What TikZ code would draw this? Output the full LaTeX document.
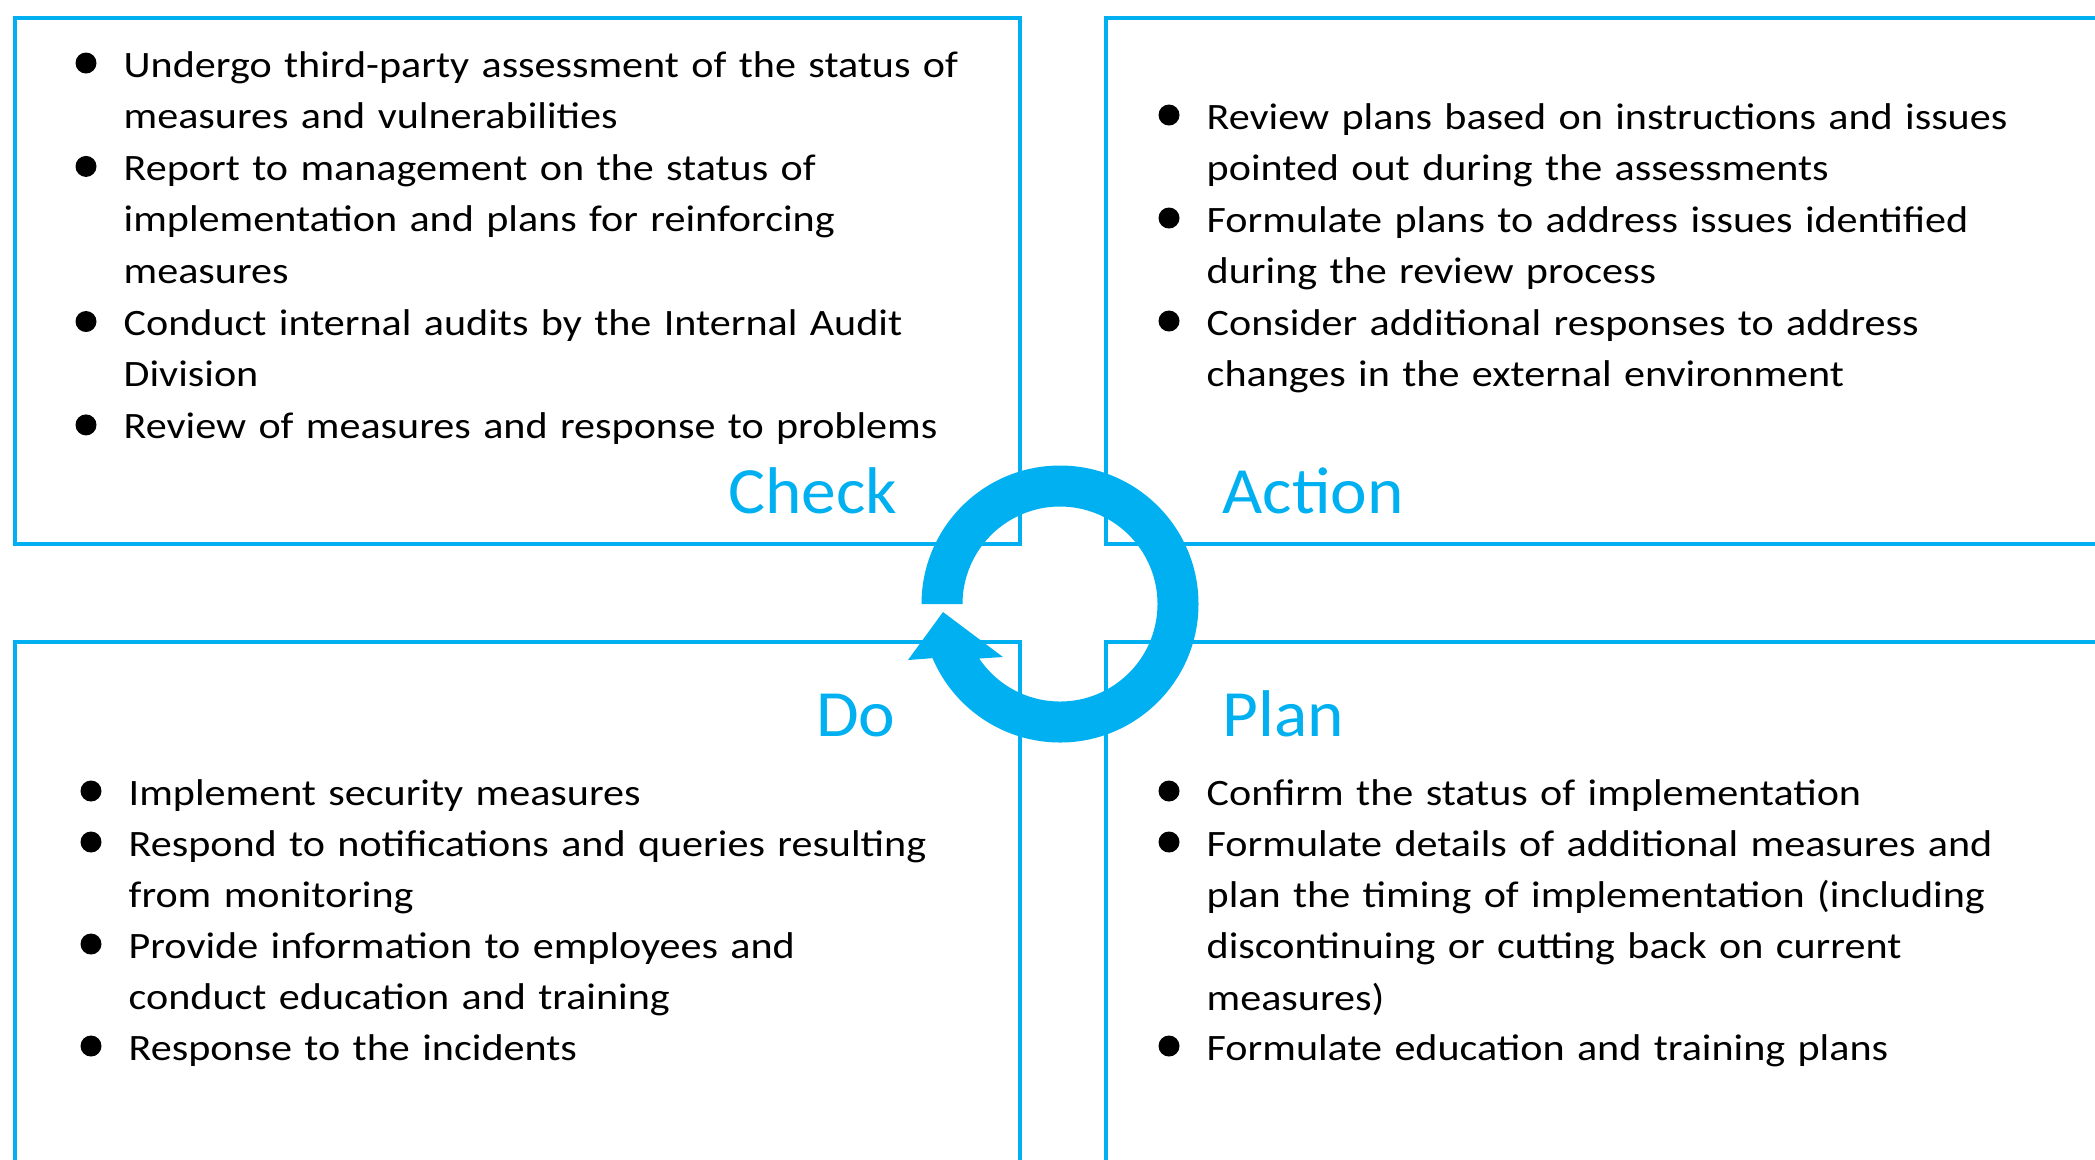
\documentclass[tikz,border=0pt]{standalone}
\usepackage{fontspec}
\setmainfont{Carlito}
\newfontfamily\bodyfont[FakeStretch=1.13]{Carlito}
\newfontfamily\headfont[FakeStretch=1.05]{Carlito}
\usetikzlibrary{positioning,calc}
\definecolor{pdcablue}{RGB}{0,176,240}

\begin{document}
\begin{tikzpicture}[
  quad/.style={draw=pdcablue,line width=1.2pt,anchor=north west,inner sep=0pt},
  phase/.style={text=pdcablue,inner sep=0pt,font=\headfont\fontsize{18.8}{22}\selectfont},
  pt/.style={anchor=base west,text width=9.6cm,align=left,inner sep=0pt,
    font=\bodyfont\fontsize{10.6}{14.62}\selectfont,
    append after command={\pgfextra{\fill ($(\tikzlastnode.base west)+(-0.37,0.14)$) circle (0.105);}}}
]
\useasboundingbox (0,0) rectangle (20.95,-11.59);
\clip (0,0) rectangle (20.95,-11.59);
% quadrants
\node[quad,minimum width=10.05cm,minimum height=5.26cm] (chkbox) at (0.13,-0.16) {};
\node[quad,minimum width=10.5cm,minimum height=5.26cm] (actbox) at (11.04,-0.16) {};
\node[quad,minimum width=10.05cm,minimum height=5.6cm] (dobox) at (0.13,-6.40) {};
\node[quad,minimum width=10.5cm,minimum height=5.6cm] (planbox) at (11.04,-6.40) {};
% Check
\node[pt] (c1) at (1.23,-0.77) {Undergo third-party assessment of the status of\\measures and vulnerabilities};
\node[pt] (c2) at (1.23,-1.804) {Report to management on the status of\\implementation and plans for reinforcing\\measures};
\node[pt] (c3) at (1.23,-3.355) {Conduct internal audits by the Internal Audit\\Division};
\node[pt] (c4) at (1.23,-4.389) {Review of measures and response to problems};
\node[phase,anchor=base east] (check) at (8.98,-5.13) {Check};
% Action
\node[pt] (a1) at (12.06,-1.29) {Review plans based on instructions and issues\\pointed out during the assessments};
\node[pt] (a2) at (12.06,-2.32) {Formulate plans to address issues identified\\during the review process};
\node[pt] (a3) at (12.06,-3.35) {Consider additional responses to address\\changes in the external environment};
\node[phase,anchor=base west] (action) at (12.22,-5.13) {Action};
% Do
\node[phase,anchor=base east] (do) at (8.96,-7.36) {Do};
\node[pt] (d1) at (1.28,-8.05) {Implement security measures};
\node[pt] (d2) at (1.28,-8.56) {Respond to notifications and queries resulting\\from monitoring};
\node[pt] (d3) at (1.28,-9.58) {Provide information to employees and\\conduct education and training};
\node[pt] (d4) at (1.28,-10.60) {Response to the incidents};
% Plan
\node[phase,anchor=base west] (plan) at (12.22,-7.36) {Plan};
\node[pt] (p1) at (12.06,-8.05) {Confirm the status of implementation};
\node[pt] (p2) at (12.06,-8.56) {Formulate details of additional measures and\\plan the timing of implementation (including\\discontinuing or cutting back on current\\measures)};
\node[pt] (p3) at (12.06,-10.60) {Formulate education and training plans};
% cycle arrow
\coordinate (hub) at (10.60,-6.04);
\fill[pdcablue] ($(hub)+(180:1.385)$) arc[start angle=180,end angle=-157,radius=1.385]
  -- (9.08,-6.60) -- (9.43,-6.12) -- (10.03,-6.57)
  -- ($(hub)+(-146:0.975)$) arc[start angle=-146,end angle=180,radius=0.975] -- cycle;
\end{tikzpicture}
\end{document}
